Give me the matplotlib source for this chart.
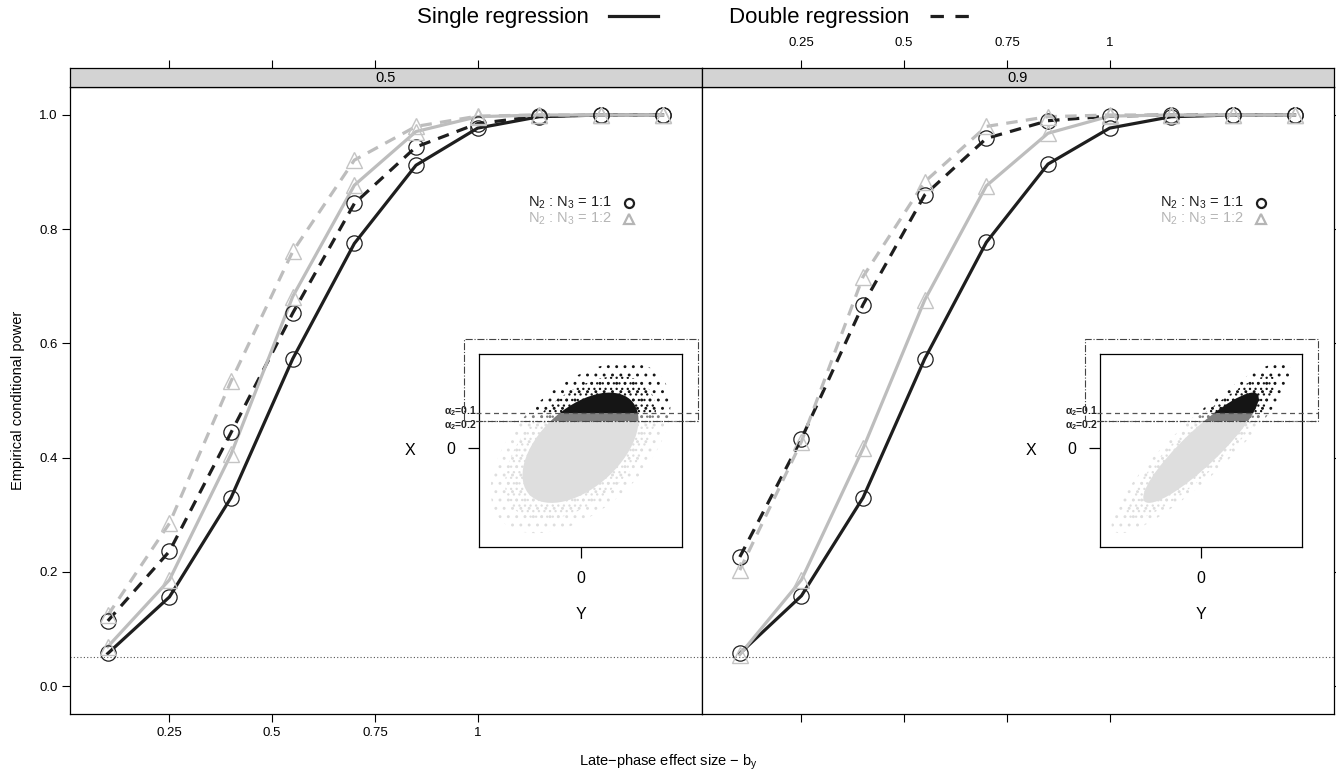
import matplotlib
matplotlib.use('Agg')
import matplotlib.pyplot as plt
from matplotlib.lines import Line2D
from matplotlib.patches import Ellipse, Rectangle
import matplotlib.transforms as mtrans

plt.rcParams['font.family'] = ['Liberation Sans', 'DejaVu Sans']
plt.rcParams['mathtext.default'] = 'regular'
plt.rcParams['hatch.linewidth'] = 0.9

# data
effect_size = [0.1, 0.25, 0.4, 0.55, 0.7, 0.85, 1.0, 1.15, 1.3, 1.45]
panels = ['0.5', '0.9']
rho = [0.5, 0.9]

single_11 = [[0.057, 0.156, 0.330, 0.573, 0.775, 0.912, 0.977, 0.997, 1.0, 1.0],
             [0.057, 0.158, 0.330, 0.573, 0.777, 0.914, 0.977, 0.997, 1.0, 1.0]]
double_11 = [[0.114, 0.236, 0.444, 0.653, 0.845, 0.944, 0.985, 0.998, 1.0, 1.0],
             [0.226, 0.433, 0.668, 0.860, 0.959, 0.990, 0.998, 1.0, 1.0, 1.0]]
single_12 = [[0.069, 0.186, 0.406, 0.682, 0.877, 0.971, 0.997, 1.0, 1.0, 1.0],
             [0.055, 0.186, 0.416, 0.676, 0.876, 0.968, 0.998, 1.0, 1.0, 1.0]]
double_12 = [[0.124, 0.285, 0.534, 0.761, 0.921, 0.980, 0.998, 1.0, 1.0, 1.0],
             [0.203, 0.428, 0.717, 0.883, 0.980, 0.997, 1.0, 1.0, 1.0, 1.0]]

nominal_level = 0.05
x_ticks = [0.25, 0.5, 0.75, 1]
x_ticklabels = ['0.25', '0.5', '0.75', '1']
y_ticks = [0.0, 0.2, 0.4, 0.6, 0.8, 1.0]
y_ticklabels = ['0.0', '0.2', '0.4', '0.6', '0.8', '1.0']

alpha2 = ['0.1', '0.2']
cutoffs = [1.27, 0.96]

BLACK = '#1e1e1e'
GREY = '#bdbdbd'
DASH = (0, (3.6, 2.6))

W, H = 1336, 773
fig = plt.figure(figsize=(W / 100, H / 100), dpi=100)


def box(x0, y0, x1, y1):
    return [x0 / W, 1 - y1 / H, (x1 - x0) / W, (y1 - y0) / H]


panel_px = [(70, 702), (702, 1334)]
inset_px = [(479, 682), (1100, 1302)]

for i, name in enumerate(panels):
    x0, x1 = panel_px[i]
    ax = fig.add_axes(box(x0, 87, x1, 714))
    ax.set_xlim(0.008, 1.546)
    ax.set_ylim(-0.049, 1.049)
    for s in ax.spines.values():
        s.set_linewidth(0.9)

    ax.axhline(nominal_level, color='#555555', lw=0.8, ls=(0, (1, 2)))

    series = [(single_11[i], BLACK, '-', 'o'),
              (double_11[i], BLACK, DASH, 'o'),
              (single_12[i], GREY, '-', '^'),
              (double_12[i], GREY, DASH, '^')]
    for vals, col, ls, mk in series:
        ax.plot(effect_size, vals, color=col, lw=2.3, ls=ls, zorder=3)
    for vals, col, ls, mk in series:
        if mk == 'o':
            ax.plot(effect_size, vals, ls='none', marker='o', ms=11, mfc='none',
                    mec=BLACK, mew=0.9, zorder=4)
        else:
            ax.plot(effect_size, vals, ls='none', marker='^', ms=12, mfc='none',
                    mec='#c4c4c4', mew=1.0, zorder=4)

    ax.set_xticks(x_ticks)
    ax.set_xticklabels(x_ticklabels)
    ax.set_yticks(y_ticks)
    ax.set_yticklabels(y_ticklabels)
    ax.tick_params(direction='out', length=6, width=0.8, labelsize=9.5, pad=3)
    if i == 0:
        ax.tick_params(left=True, labelleft=True, right=False, bottom=True,
                       labelbottom=True)
    else:
        ax.tick_params(left=False, labelleft=False, right=True, labelright=False,
                       bottom=True, labelbottom=False)

    # inner key
    ax.text(0.857, 0.815, 'N$_2$ : N$_3$ = 1:1', transform=ax.transAxes,
            ha='right', va='center', fontsize=10.5, color=BLACK)
    ax.text(0.857, 0.789, 'N$_2$ : N$_3$ = 1:2', transform=ax.transAxes,
            ha='right', va='center', fontsize=10.5, color='#b5b5b5')
    ax.plot([0.884], [0.815], transform=ax.transAxes, marker='o', ms=6.5,
            mfc='none', mec=BLACK, mew=1.6, ls='none')
    ax.plot([0.884], [0.789], transform=ax.transAxes, marker='^', ms=7.5,
            mfc='none', mec='#b5b5b5', mew=1.6, ls='none')

    # strip
    st = fig.add_axes(box(x0, 68, x1, 87))
    st.set_facecolor('#d3d3d3')
    st.set_xlim(0.008, 1.546)
    st.set_ylim(0, 1)
    st.set_yticks([])
    st.set_xticks(x_ticks)
    st.set_xticklabels(x_ticklabels)
    st.tick_params(axis='x', direction='out', length=6, width=0.8, labelsize=9.5,
                   top=True, bottom=False, labelbottom=False, labeltop=(i == 1),
                   pad=8)
    for s in st.spines.values():
        s.set_linewidth(0.9)
    st.text(0.5, 0.5, name, transform=st.transAxes, ha='center', va='center',
            fontsize=10.5)

    # inset: selection region of the bivariate sample
    ix0, ix1 = inset_px[i]
    ins = fig.add_axes(box(ix0, 354, ix1, 547))
    ins.set_xlim(-3.5, 3.5)
    ins.set_ylim(-3.6, 3.4)
    r = rho[i]
    bands = [(-3.6, cutoffs[1], '#dedede'),
             (cutoffs[1], cutoffs[0], '#808080'),
             (cutoffs[0], 3.4, '#151515')]
    for lo, hi, col in bands:
        for rad, hatch, fill in [(3.1, '..', False), (2.6, '...', False),
                                 (2.0, None, True)]:
            e = Ellipse((0, 0), 2 * rad * (1 + r) ** 0.5, 2 * rad * (1 - r) ** 0.5,
                        angle=45, facecolor=col if fill else 'none',
                        edgecolor=col, hatch=hatch, lw=0)
            ins.add_patch(e)
            e.set_clip_box(mtrans.TransformedBbox(
                mtrans.Bbox([[-3.5, lo], [3.5, hi]]), ins.transData))
            e.set_clip_path(None)

    for c, ls, lab, dy in [(cutoffs[0], (0, (4, 3)), alpha2[0], 1.5),
                           (cutoffs[1], (0, (1, 2)), alpha2[1], -3)]:
        ins.axhline(c, xmin=-0.015, xmax=1.08, color='#555555', lw=0.9, ls=ls,
                    clip_on=False, zorder=5)
        tr = mtrans.blended_transform_factory(ins.transAxes, ins.transData)
        ins.annotate(r'$\alpha_2$=' + lab, xy=(-0.012, c), xycoords=tr,
                     xytext=(0, dy), textcoords='offset points', ha='right',
                     va='center', fontsize=7.5, fontweight='bold', color='#222222')
    top = 3.4 + 15 / 27.6
    ins.add_patch(Rectangle((-3.5 - 15 / 29, cutoffs[1]), 7 + 31 / 29,
                            top - cutoffs[1], fill=False, ls='-.', lw=0.8,
                            edgecolor='#444444', clip_on=False, zorder=5))

    ins.set_xticks([0])
    ins.set_xticklabels(['0'])
    ins.set_yticks([0])
    ins.set_yticklabels(['0'])
    ins.tick_params(direction='out', length=8, width=0.9, labelsize=11.5, pad=9)
    for s in ins.spines.values():
        s.set_linewidth(0.9)
    ins.set_xlabel('Y', fontsize=11.5)
    ins.set_ylabel('X', fontsize=11.5, rotation=0)
    ins.xaxis.set_label_coords(0.5, -0.352)
    ins.yaxis.set_label_coords(-0.34, 0.5)
    ins.xaxis.label.set_va('center')
    ins.yaxis.label.set_va('center')
    ins.yaxis.label.set_ha('center')

fig.legend(handles=[Line2D([], [], color=BLACK, lw=2.3),
                    Line2D([], [], color=BLACK, lw=2.3, ls=(0, (4.2, 3.6)))],
           labels=['Single regression', 'Double regression'],
           loc='center', bbox_to_anchor=(698 / W, 0.977), ncol=2, frameon=False,
           fontsize=16, markerfirst=False, handlelength=2.2,
           columnspacing=3.2, handletextpad=0.9)

fig.text(0.5, 1 - 762 / H, 'Late\u2212phase effect size \u2212 b$_y$',
         ha='center', va='center', fontsize=10.5)
fig.text(18 / W, 1 - 400 / H, 'Empirical conditional power', rotation=90,
         ha='center', va='center', fontsize=10.5)

fig.savefig('out.png', dpi=100)
